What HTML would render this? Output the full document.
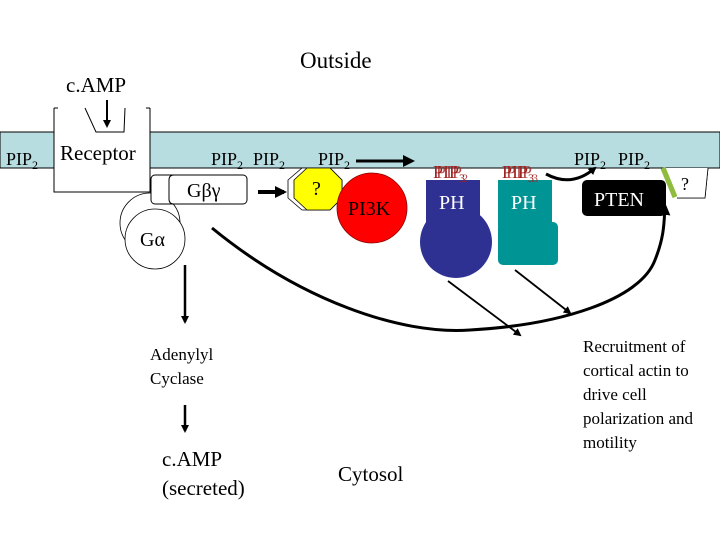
<!DOCTYPE html>
<html><head><style>body{margin:0;background:#fff}svg{display:block}text{font-family:"Liberation Serif",serif}</style></head>
<body>
<svg width="720" height="540" viewBox="0 0 720 540">
<defs><marker id="ah" markerWidth="8" markerHeight="8" refX="6" refY="4" orient="auto" markerUnits="userSpaceOnUse"><path d="M0,0 L8,4 L0,8z" fill="#000"/></marker>
<marker id="ab" markerWidth="12" markerHeight="12" refX="9" refY="6" orient="auto" markerUnits="userSpaceOnUse"><path d="M0,0 L12,6 L0,12z" fill="#000"/></marker></defs>
<rect x="0" y="132" width="720" height="36" fill="#b8dde0" stroke="#000" stroke-width="1"/>
<text x="300" y="68" font-size="23">Outside</text>
<text x="66" y="92" font-size="21">c.AMP</text>
<text x="6" y="165" font-size="18">PIP<tspan font-size="12" dy="4">2</tspan></text>
<!-- receptor -->
<path d="M54,108 V192 H150 V108" fill="#fff" stroke="#000"/>
<path d="M54,108 H58 M146,108 H150" stroke="#000"/>
<path d="M85,108 L96,132 H124 L125,108" fill="#fff" stroke="#000"/>
<line x1="107" y1="100" x2="107" y2="126" stroke="#000" stroke-width="2" marker-end="url(#ah)"/>
<text x="60" y="160" font-size="21">Receptor</text>
<!-- G alpha -->
<circle cx="150" cy="223" r="30" fill="#fff" stroke="#000" stroke-width="0.8"/>
<circle cx="155" cy="239" r="30" fill="#fff" stroke="#000" stroke-width="0.8"/>
<text x="140" y="246" font-size="20">Gα</text>
<rect x="151" y="175" width="96" height="29" rx="4" fill="#fff" stroke="#000"/>
<path d="M174,175 Q169,175 169,180 V199 Q169,204 174,204" fill="none" stroke="#000"/>
<text x="187" y="197" font-size="20">Gβγ</text>
<text x="211" y="165" font-size="18">PIP<tspan font-size="12" dy="4">2</tspan></text>
<text x="253" y="165" font-size="18">PIP<tspan font-size="12" dy="4">2</tspan></text>
<line x1="258" y1="192" x2="284" y2="192" stroke="#000" stroke-width="4" marker-end="url(#ab)"/>
<!-- octagons -->
<polygon points="302,168 330,168 342,180 342,198 330,210 302,210 288,198 288,180" fill="#fff" stroke="#000" stroke-width="0.8"/>
<polygon points="307,168 330,168 342,180 342,198 330,210 307,210 294,198 294,180" fill="#ffff00" stroke="#000" stroke-width="0.8"/>
<text x="312" y="195" font-size="20">?</text>
<circle cx="372" cy="208" r="35" fill="#ff0000" stroke="#800" stroke-width="0.8"/>
<text x="348" y="215" font-size="20">PI3K</text>
<text x="318" y="165" font-size="18">PIP<tspan font-size="12" dy="4">2</tspan></text>
<line x1="356" y1="161" x2="412" y2="161" stroke="#000" stroke-width="3" marker-end="url(#ab)"/>
<!-- PH blue -->
<rect x="426" y="180" width="54" height="50" fill="#2e3192"/>
<circle cx="456" cy="242" r="36" fill="#2e3192"/>
<text x="439" y="209" font-size="20" fill="#fff">PH</text>
<text x="433" y="178" font-size="18" fill="#a02020">PIP<tspan font-size="12" dy="4">3</tspan></text>
<text x="436" y="178" font-size="18" fill="#a02020" opacity="0.8">PIP<tspan font-size="12" dy="4">2</tspan></text>
<!-- PH teal -->
<rect x="498" y="180" width="54" height="46" fill="#009494"/>
<rect x="498" y="222" width="60" height="43" rx="5" fill="#009494"/>
<text x="511" y="209" font-size="20" fill="#fff">PH</text>
<text x="502" y="178" font-size="18" fill="#a02020">PIP<tspan font-size="12" dy="4">3</tspan></text>
<text x="506" y="178" font-size="18" fill="#a02020" opacity="0.8">PIP<tspan font-size="12" dy="4">3</tspan></text>
<path d="M546,174 Q572,188 595,168" fill="none" stroke="#000" stroke-width="3" marker-end="url(#ah)"/>
<text x="574" y="165" font-size="18">PIP<tspan font-size="12" dy="4">2</tspan></text>
<text x="618" y="165" font-size="18">PIP<tspan font-size="12" dy="4">2</tspan></text>
<rect x="582" y="180" width="84" height="36" rx="5" fill="#000"/>
<text x="594" y="206" font-size="20" fill="#fff">PTEN</text>
<line x1="663" y1="168" x2="675" y2="197" stroke="#8fbc3f" stroke-width="5"/>
<path d="M677,198 H705 L708,168" fill="#fff" stroke="#000" stroke-width="0.8"/>
<polygon points="666,168 708,168 705,198 678,198" fill="#fff"/>
<line x1="663" y1="168" x2="675" y2="197" stroke="#8fbc3f" stroke-width="5"/>
<path d="M677,198 H705 L708,168" fill="none" stroke="#000" stroke-width="0.8"/>
<text x="681" y="190" font-size="18">?</text>
<!-- curves -->
<path d="M212,228 C300,300 400,335 470,330 C560,325 640,300 655,260 C665,235 664,220 665,206" fill="none" stroke="#000" stroke-width="3" marker-end="url(#ab)"/>
<line x1="448" y1="281" x2="520" y2="335" stroke="#000" stroke-width="1.8" marker-end="url(#ah)"/>
<line x1="515" y1="270" x2="570" y2="313" stroke="#000" stroke-width="1.8" marker-end="url(#ah)"/>
<line x1="185" y1="265" x2="185" y2="322" stroke="#000" stroke-width="2.5" marker-end="url(#ah)"/>
<text x="150" y="360" font-size="17">Adenylyl</text>
<text x="150" y="384" font-size="17">Cyclase</text>
<line x1="185" y1="405" x2="185" y2="431" stroke="#000" stroke-width="2.5" marker-end="url(#ah)"/>
<text x="162" y="466" font-size="21">c.AMP</text>
<text x="162" y="495" font-size="21">(secreted)</text>
<text x="338" y="481" font-size="21">Cytosol</text>
<text font-size="17"><tspan x="583" y="352">Recruitment of</tspan><tspan x="583" y="376">cortical actin to</tspan><tspan x="583" y="400">drive cell</tspan><tspan x="583" y="424">polarization and</tspan><tspan x="583" y="448">motility</tspan></text>
</svg>
</body></html>
